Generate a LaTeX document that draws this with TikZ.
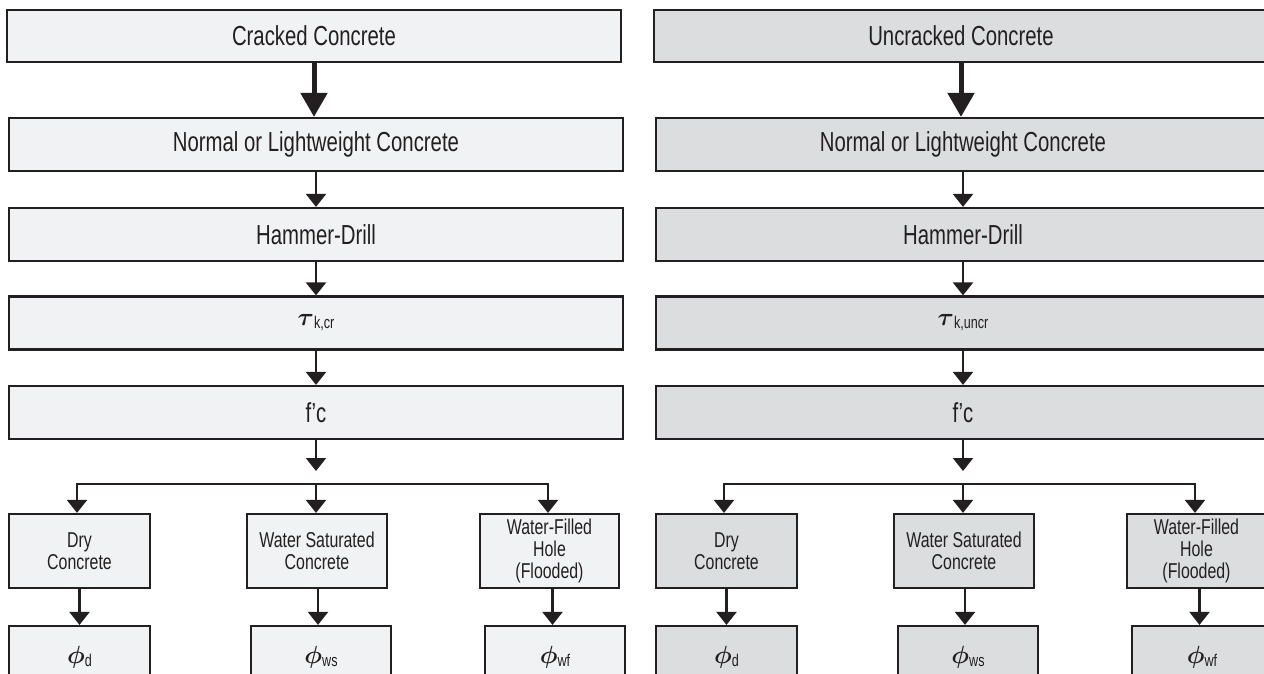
\documentclass[tikz,border=0pt]{standalone}
\usepackage{amsmath}
\usepackage{fontspec}
\setmainfont{Liberation Sans}[FakeStretch=0.74]
\usetikzlibrary{arrows.meta}
\definecolor{ink}{HTML}{231F20}
\definecolor{fillL}{HTML}{F1F2F3}
\definecolor{fillR}{HTML}{DCDDDF}
\newcommand{\tauk}[1]{{\fontsize{33}{33}\selectfont$\boldsymbol{\tau}$}{\fontsize{17}{17}\selectfont\raisebox{-3pt}{#1}}}
\newcommand{\phis}[1]{{\fontsize{33}{33}\selectfont$\boldsymbol{\phi}$}{\fontsize{17}{17}\selectfont\raisebox{-3pt}{#1}}}
\begin{document}
\begin{tikzpicture}[x=1pt,y=-1pt,
  box/.style={draw=ink, line width=2.2pt, inner sep=0pt, align=center, text=ink},
  big/.style={box, minimum width=614pt, minimum height=53pt, font=\fontsize{27.5}{29}\selectfont},
  small/.style={box, minimum width=140pt, minimum height=74pt, font=\fontsize{21.5}{21.7}\selectfont},
  arr/.style={draw=ink, line width=2.2pt, -{Triangle[width=20pt,length=13pt]}},
  bigarr/.style={draw=ink, line width=5pt, -{Triangle[width=26pt,length=24pt]}},
  branch/.style={draw=ink, line width=2.2pt, line cap=rect}]
\useasboundingbox (0,0) rectangle (1264,673);
\clip (0,0) rectangle (1264,673);
\fill[white] (0,0) rectangle (1264,673);
\foreach \s/\dx/\fc/\ttl/\sb in {L/0/fillL/Cracked Concrete/{k,cr}, R/647/fillR/Uncracked Concrete/{k,uncr}}{
\begin{scope}[xshift=\dx pt]
  \node[big, fill=\fc, minimum height=52pt] (b1\s) at (314,36) {\ttl};
  \node[big, fill=\fc] (b2\s) at (316,144.5) {Normal or Lightweight Concrete};
  \node[big, fill=\fc] (b3\s) at (316,234.5) {Hammer-Drill};
  \node[big, fill=\fc] (b4\s) at (316,323) {\tauk{\sb}};
  \node[big, fill=\fc] (b5\s) at (316,412.5) {f’c};
  \node[small, fill=\fc, minimum width=141pt] (dry\s) at (79.5,551) {Dry\\Concrete};
  \node[small, fill=\fc] (ws\s) at (317,551) {Water Saturated\\Concrete};
  \node[small, fill=\fc, minimum width=139pt] (wf\s) at (549.5,551) {Water-Filled\\Hole\\(Flooded)};
  \node[small, fill=\fc, minimum width=141pt, minimum height=62pt] (pd\s) at (79.5,657) {\phis{d}};
  \node[small, fill=\fc, minimum height=62pt] (pws\s) at (321,657) {\phis{ws}};
  \node[small, fill=\fc, minimum height=62pt] (pwf\s) at (555,657) {\phis{wf}};
  \draw[bigarr] (b1\s.south) -- (b1\s.south |- b2\s.north);
  \draw[arr] (b2\s) -- (b3\s);
  \draw[arr] (b3\s) -- (b4\s);
  \draw[arr] (b4\s) -- (b5\s);
  \coordinate (m\s) at (316,471);
  \draw[arr] (b5\s) -- (m\s);
  \coordinate (jl\s) at (77,484);
  \coordinate (jc\s) at (316,484);
  \coordinate (jr\s) at (548,484);
  \draw[branch] (jl\s) -- (jr\s);
  \draw[arr] (jl\s) -- (jl\s |- dry\s.north);
  \draw[arr] (jc\s) -- (jc\s |- ws\s.north);
  \draw[arr] (jr\s) -- (jr\s |- wf\s.north);
  \draw[arr] (dry\s) -- (pd\s);
  \draw[arr] (ws\s.south) ++(1,0) coordinate (u\s) -- (u\s |- pws\s.north);
  \draw[arr] (wf\s.south) ++(3,0) coordinate (t\s) -- (t\s |- pwf\s.north);
\end{scope}}
\end{tikzpicture}
\end{document}
